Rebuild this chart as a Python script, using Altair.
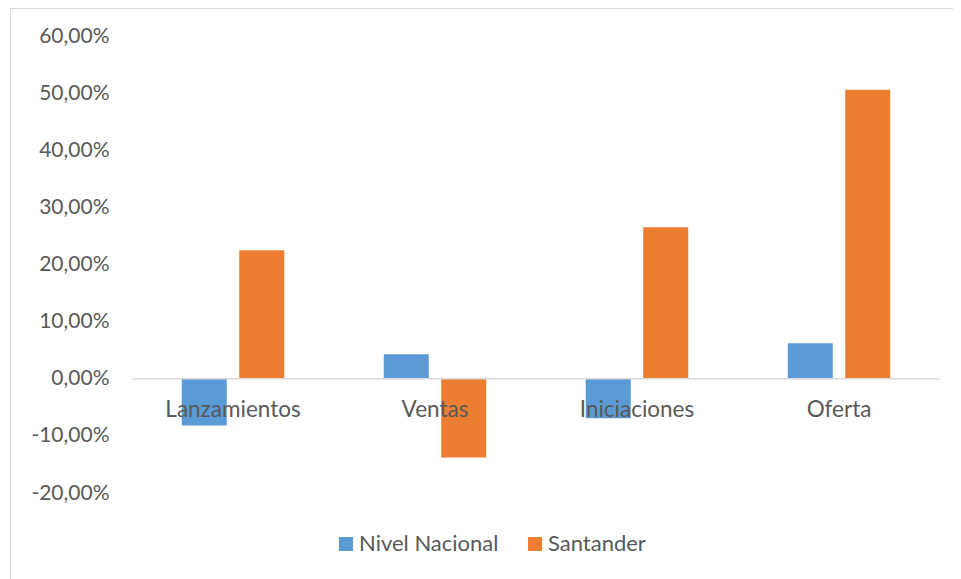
import altair as alt
import pandas as pd

categories = ["Lanzamientos", "Ventas", "Iniciaciones", "Oferta"]
series = ["Nivel Nacional", "Santander"]
nivel_nacional = [-0.082, 0.043, -0.069, 0.062]
santander = [0.225, -0.138, 0.265, 0.506]
colors = ["#5B9BD5", "#ED7D31"]
y_ticks = [-0.2, -0.1, 0.0, 0.1, 0.2, 0.3, 0.4, 0.5, 0.6]

rows = []
for c, a, b in zip(categories, nivel_nacional, santander):
    rows.append({"cat": c, "serie": series[0], "valor": a})
    rows.append({"cat": c, "serie": series[1], "valor": b})
df = pd.DataFrame(rows)
cat_df = pd.DataFrame({"cat": categories, "zero": [0.0] * len(categories)})
zero_df = pd.DataFrame({"v": [0.0]})

TEXT = "#595959"
FONT = "Lato"

xscale = alt.Scale(domain=categories, paddingInner=0.4926, paddingOuter=0.2463)
yscale = alt.Scale(domain=[-0.2, 0.6], nice=False, zero=False)
yaxis = alt.Axis(
    values=y_ticks,
    labelExpr="(datum.value < -0.0001 ? '-' : '') + replace(format(abs(datum.value), '.2%'), '.', ',')",
    domain=False, ticks=False, grid=False, title=None,
    labelFont=FONT, labelFontSize=21, labelColor=TEXT, labelPadding=23,
)

bars = alt.Chart(df).mark_bar().encode(
    x=alt.X("cat:N", scale=xscale, sort=categories, axis=None),
    xOffset=alt.XOffset("serie:N", sort=series,
                        scale=alt.Scale(domain=series, paddingInner=0.217, paddingOuter=0)),
    y=alt.Y("valor:Q", scale=yscale, axis=yaxis),
    color=alt.Color(
        "serie:N",
        scale=alt.Scale(domain=series, range=colors),
        legend=alt.Legend(
            orient="none", legendX=203, legendY=497, direction="horizontal",
            title=None, symbolType="square", symbolSize=196, symbolStrokeWidth=0,
            labelFont=FONT, labelFontSize=22, labelColor=TEXT, labelOffset=2,
            columnPadding=25, padding=0,
        ),
    ),
)

zero_rule = alt.Chart(zero_df).mark_rule(color="#d9d9d9", strokeWidth=1.5).encode(
    y=alt.Y("v:Q", scale=yscale, axis=yaxis)
)

labels = alt.Chart(cat_df).mark_text(
    font=FONT, fontSize=22.5, color=TEXT, dy=31, baseline="middle", align="center"
).encode(
    x=alt.X("cat:N", scale=xscale, sort=categories, axis=None),
    y=alt.Y("zero:Q", scale=yscale, axis=yaxis),
    text="cat:N",
)

border_top = alt.Chart(zero_df).mark_rule(color="#d9d9d9", strokeWidth=1).encode(
    x=alt.value(-122), x2=alt.value(840), y=alt.value(-27.5)
)
border_left = alt.Chart(zero_df).mark_rule(color="#d9d9d9", strokeWidth=1).encode(
    x=alt.value(-121.5), y=alt.value(-27.5), y2=alt.value(560)
)

chart = alt.layer(border_top, border_left, bars, zero_rule, labels).properties(
    width=808, height=457,
    padding={"left": 124, "top": 28, "right": 13, "bottom": 86},
    autosize=alt.AutoSizeParams(type="none"),
    background="white",
).configure_view(stroke=None)

chart.save("out.html", embed_options={"renderer": "svg", "actions": False})
